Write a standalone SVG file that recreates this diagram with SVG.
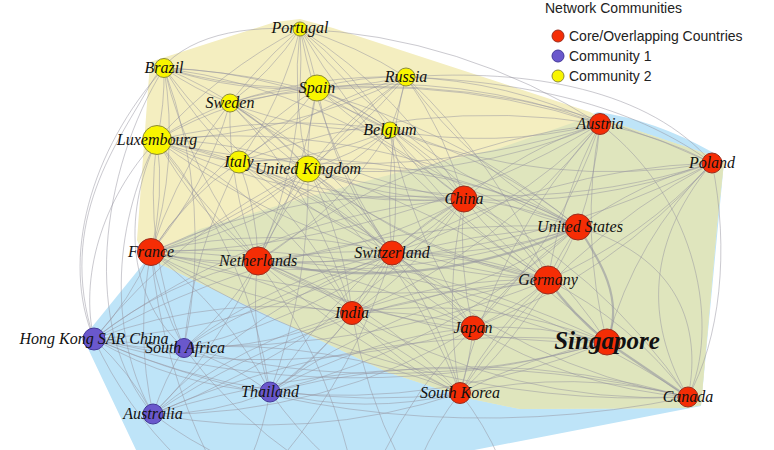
<svg xmlns="http://www.w3.org/2000/svg" width="774" height="450" viewBox="0 0 774 450">
<style>
.e path{fill:none;stroke:#95949f;stroke-opacity:0.5;stroke-width:1}
.e path.t{stroke-width:2.2;stroke-opacity:0.6}
.r{fill:#f52d05;stroke:#9b2d1e;stroke-width:1}
.y{fill:#f8f500;stroke:#8c8a3a;stroke-width:1}
.p{fill:#6a58cc;stroke:#43389a;stroke-width:1}
.l{font-family:"Liberation Serif","Times New Roman",serif;font-style:italic;font-size:16px;fill:#111;text-anchor:middle}
.lg{font-family:"Liberation Sans",Arial,sans-serif;font-size:14px;fill:#222}
</style>
<rect width="774" height="450" fill="#ffffff"/>
<g id="hulls">
<path d="M148,258 L83,338 L137,452 L464,452 L701,406 L724,162 L712,152 Q655,120 598,112 L500,148 L400,172 L300,199 L200,229 L175,242 Z" fill="#bee4f8"/>
<path d="M150,62 L275,22 L300,19 L333,28 L590,112 L603,119 L716,157 L724,162 L717,225 L701,405 L687,408 L520,409 L467,398 L387,372 L160,264 L145,259 L137,240 Z" fill="#f4eec0"/>
<path d="M150,262 L175,242 L200,229 L300,199 L400,172 L500,148 L598,114 L603,119 L716,157 L724,162 L717,225 L701,405 L687,408 L520,409 L467,398 L387,372 L160,264 Z" fill="#dfe5bd"/>
</g>
<g id="connectors" class="e">
<path d="M300 29C230 25 175 40 150 85C120 140 55 220 94 339"/>
<path d="M164 68C90 150 60 260 94 339"/>
<path d="M164 68C100 170 80 330 153 414"/>
<path d="M157 140C100 200 80 280 94 339"/>
<path d="M157 140C110 230 110 340 153 414"/>
<path d="M157 140C120 220 130 300 184 348"/>
<path d="M406 77C530 68 650 90 712 163"/>
<path d="M406 77C540 82 640 110 712 163"/>
<path d="M578 227C690 260 700 340 688 397"/>
<path d="M712 163C640 250 650 330 688 397"/>
<path d="M712 163C730 250 720 340 688 397"/>
<path d="M600 124C700 200 720 330 688 397"/>
<path class="t" d="M578 227C600 260 625 300 607 342"/>
<path class="t" d="M607 342L688 397"/>
<path class="t" d="M578 227A500 500 0 0 1 258 261"/>
<path class="t" d="M548 280A300 300 0 0 0 607 342"/>
<path d="M300 29A300 300 0 0 1 230 103"/>
<path d="M300 29A500 500 0 0 0 157 140"/>
<path d="M300 29A400 400 0 0 1 239 162"/>
<path d="M300 29A400 400 0 0 0 308 169"/>
<path d="M300 29A300 300 0 0 1 317 88"/>
<path d="M300 29A400 400 0 0 1 390 130"/>
<path d="M300 29A500 500 0 0 1 258 261"/>
<path d="M300 29A500 500 0 0 0 151 252"/>
<path d="M300 29A500 500 0 0 1 464 199"/>
<path d="M300 29A600 600 0 0 0 392 253"/>
<path d="M300 29A600 600 0 0 1 600 124"/>
<path d="M300 29A700 700 0 0 0 548 280"/>
<path d="M300 29A600 600 0 0 0 578 227"/>
<path d="M300 29A400 400 0 0 1 406 77"/>
<path d="M164 68A300 300 0 0 0 230 103"/>
<path d="M164 68A300 300 0 0 1 157 140"/>
<path d="M164 68A400 400 0 0 0 239 162"/>
<path d="M164 68A400 400 0 0 1 308 169"/>
<path d="M164 68A400 400 0 0 0 317 88"/>
<path d="M164 68A500 500 0 0 1 390 130"/>
<path d="M164 68A500 500 0 0 0 406 77"/>
<path d="M164 68A400 400 0 0 1 151 252"/>
<path d="M164 68A500 500 0 0 0 258 261"/>
<path d="M164 68A600 600 0 0 1 464 199"/>
<path d="M164 68A600 600 0 0 0 392 253"/>
<path d="M164 68A500 500 0 0 1 184 348"/>
<path d="M164 68A700 700 0 0 1 578 227"/>
<path d="M230 103A300 300 0 0 1 317 88"/>
<path d="M230 103A300 300 0 0 0 157 140"/>
<path d="M230 103A300 300 0 0 1 308 169"/>
<path d="M230 103A400 400 0 0 0 390 130"/>
<path d="M230 103A500 500 0 0 1 406 77"/>
<path d="M230 103A400 400 0 0 0 258 261"/>
<path d="M230 103A400 400 0 0 1 151 252"/>
<path d="M230 103A500 500 0 0 0 464 199"/>
<path d="M230 103A400 400 0 0 1 392 253"/>
<path d="M230 103A700 700 0 0 1 600 124"/>
<path d="M230 103A600 600 0 0 0 548 280"/>
<path d="M230 103A500 500 0 0 1 352 313"/>
<path d="M317 88A300 300 0 0 1 406 77"/>
<path d="M317 88A300 300 0 0 0 390 130"/>
<path d="M317 88A400 400 0 0 0 157 140"/>
<path d="M317 88A300 300 0 0 1 239 162"/>
<path d="M317 88A300 300 0 0 0 308 169"/>
<path d="M317 88A400 400 0 0 1 464 199"/>
<path d="M317 88A400 400 0 0 0 392 253"/>
<path d="M317 88A500 500 0 0 1 258 261"/>
<path d="M317 88A600 600 0 0 0 151 252"/>
<path d="M317 88A600 600 0 0 1 600 124"/>
<path d="M317 88A600 600 0 0 0 578 227"/>
<path d="M317 88A600 600 0 0 1 548 280"/>
<path d="M317 88A800 800 0 0 1 712 163"/>
<path d="M406 77A300 300 0 0 1 390 130"/>
<path d="M406 77A400 400 0 0 0 308 169"/>
<path d="M406 77A600 600 0 0 1 157 140"/>
<path d="M406 77A500 500 0 0 0 239 162"/>
<path d="M406 77A400 400 0 0 1 464 199"/>
<path d="M406 77A500 500 0 0 0 392 253"/>
<path d="M406 77A500 500 0 0 1 600 124"/>
<path d="M406 77A500 500 0 0 0 578 227"/>
<path d="M406 77A600 600 0 0 1 548 280"/>
<path d="M406 77A500 500 0 0 0 258 261"/>
<path d="M406 77A600 600 0 0 1 151 252"/>
<path d="M390 130A600 600 0 0 0 157 140"/>
<path d="M390 130A400 400 0 0 1 239 162"/>
<path d="M390 130A300 300 0 0 1 308 169"/>
<path d="M390 130A300 300 0 0 0 464 199"/>
<path d="M390 130A400 400 0 0 1 392 253"/>
<path d="M390 130A500 500 0 0 0 600 124"/>
<path d="M390 130A500 500 0 0 1 578 227"/>
<path d="M390 130A500 500 0 0 0 548 280"/>
<path d="M390 130A400 400 0 0 1 258 261"/>
<path d="M390 130A500 500 0 0 1 151 252"/>
<path d="M390 130A600 600 0 0 0 473 328"/>
<path d="M390 130A600 600 0 0 0 712 163"/>
<path d="M157 140A300 300 0 0 0 239 162"/>
<path d="M157 140A400 400 0 0 1 308 169"/>
<path d="M157 140A300 300 0 0 1 151 252"/>
<path d="M157 140A400 400 0 0 0 258 261"/>
<path d="M157 140A500 500 0 0 1 392 253"/>
<path d="M157 140A600 600 0 0 0 464 199"/>
<path d="M157 140A800 800 0 0 0 600 124"/>
<path d="M157 140A700 700 0 0 1 578 227"/>
<path d="M157 140A700 700 0 0 0 548 280"/>
<path d="M157 140A500 500 0 0 1 352 313"/>
<path d="M157 140A400 400 0 0 0 184 348"/>
<path d="M157 140A600 600 0 0 1 473 328"/>
<path d="M157 140A700 700 0 0 0 460 393"/>
<path d="M157 140A500 500 0 0 1 270 392"/>
<path d="M239 162A300 300 0 0 0 308 169"/>
<path d="M239 162A300 300 0 0 1 258 261"/>
<path d="M239 162A300 300 0 0 0 151 252"/>
<path d="M239 162A400 400 0 0 1 392 253"/>
<path d="M239 162A500 500 0 0 0 464 199"/>
<path d="M239 162A600 600 0 0 1 578 227"/>
<path d="M239 162A600 600 0 0 0 548 280"/>
<path d="M239 162A500 500 0 0 1 352 313"/>
<path d="M239 162A700 700 0 0 1 600 124"/>
<path d="M239 162A500 500 0 0 0 184 348"/>
<path d="M308 169A300 300 0 0 0 258 261"/>
<path d="M308 169A400 400 0 0 1 151 252"/>
<path d="M308 169A300 300 0 0 1 392 253"/>
<path d="M308 169A400 400 0 0 0 464 199"/>
<path d="M308 169A500 500 0 0 1 578 227"/>
<path d="M308 169A500 500 0 0 0 548 280"/>
<path d="M308 169A600 600 0 0 0 600 124"/>
<path d="M308 169A400 400 0 0 1 352 313"/>
<path d="M308 169A500 500 0 0 0 473 328"/>
<path d="M308 169A700 700 0 0 1 607 342"/>
<path d="M308 169A700 700 0 0 0 712 163"/>
<path d="M308 169A600 600 0 0 1 460 393"/>
<path d="M308 169A600 600 0 0 0 94 339"/>
<path d="M308 169A600 600 0 0 1 270 392"/>
<path d="M600 124A400 400 0 0 1 712 163"/>
<path d="M600 124A400 400 0 0 0 464 199"/>
<path d="M600 124A400 400 0 0 1 578 227"/>
<path d="M600 124A500 500 0 0 0 548 280"/>
<path d="M600 124A500 500 0 0 1 392 253"/>
<path d="M600 124A700 700 0 0 0 258 261"/>
<path d="M600 124A900 900 0 0 1 151 252"/>
<path d="M600 124A500 500 0 0 1 473 328"/>
<path d="M600 124A500 500 0 0 0 607 342"/>
<path d="M600 124A600 600 0 0 1 352 313"/>
<path d="M600 124A600 600 0 0 0 460 393"/>
<path d="M712 163A400 400 0 0 0 578 227"/>
<path d="M712 163A600 600 0 0 1 464 199"/>
<path d="M712 163A500 500 0 0 1 548 280"/>
<path d="M712 163A400 400 0 0 0 607 342"/>
<path d="M712 163A700 700 0 0 0 392 253"/>
<path d="M712 163A600 600 0 0 1 473 328"/>
<path d="M712 163A900 900 0 0 1 258 261"/>
<path d="M712 163A700 700 0 0 0 460 393"/>
<path d="M464 199A400 400 0 0 1 578 227"/>
<path d="M464 199A300 300 0 0 0 392 253"/>
<path d="M464 199A500 500 0 0 1 258 261"/>
<path d="M464 199A600 600 0 0 0 151 252"/>
<path d="M464 199A400 400 0 0 0 548 280"/>
<path d="M464 199A400 400 0 0 1 352 313"/>
<path d="M464 199A400 400 0 0 0 473 328"/>
<path d="M464 199A500 500 0 0 1 607 342"/>
<path d="M464 199A500 500 0 0 0 460 393"/>
<path d="M464 199A700 700 0 0 0 94 339"/>
<path d="M464 199A600 600 0 0 1 184 348"/>
<path d="M464 199A600 600 0 0 0 270 392"/>
<path d="M464 199A800 800 0 0 1 153 414"/>
<path d="M464 199A600 600 0 0 1 688 397"/>
<path d="M578 227A500 500 0 0 1 392 253"/>
<path d="M578 227A800 800 0 0 1 151 252"/>
<path d="M578 227A300 300 0 0 0 548 280"/>
<path d="M578 227A500 500 0 0 1 352 313"/>
<path d="M578 227A500 500 0 0 0 473 328"/>
<path d="M578 227A500 500 0 0 1 460 393"/>
<path d="M578 227A900 900 0 0 0 94 339"/>
<path d="M578 227A700 700 0 0 1 270 392"/>
<path d="M578 227A800 800 0 0 0 184 348"/>
<path d="M151 252A400 400 0 0 0 258 261"/>
<path d="M151 252A500 500 0 0 1 392 253"/>
<path d="M151 252A500 500 0 0 0 352 313"/>
<path d="M151 252A700 700 0 0 1 473 328"/>
<path d="M151 252A800 800 0 0 0 548 280"/>
<path d="M151 252A900 900 0 0 1 607 342"/>
<path d="M151 252A700 700 0 0 1 460 393"/>
<path d="M151 252A300 300 0 0 1 94 339"/>
<path d="M151 252A300 300 0 0 0 184 348"/>
<path d="M151 252A400 400 0 0 1 270 392"/>
<path d="M151 252A400 400 0 0 0 153 414"/>
<path d="M151 252A900 900 0 0 0 688 397"/>
<path d="M258 261A500 500 0 0 0 392 253"/>
<path d="M258 261A300 300 0 0 1 352 313"/>
<path d="M258 261A600 600 0 0 1 548 280"/>
<path d="M258 261A500 500 0 0 0 473 328"/>
<path d="M258 261A700 700 0 0 0 607 342"/>
<path d="M258 261A500 500 0 0 1 460 393"/>
<path d="M258 261A400 400 0 0 0 94 339"/>
<path d="M258 261A300 300 0 0 1 184 348"/>
<path d="M258 261A300 300 0 0 0 270 392"/>
<path d="M258 261A500 500 0 0 1 153 414"/>
<path d="M258 261A800 800 0 0 1 688 397"/>
<path d="M392 253A300 300 0 0 0 352 313"/>
<path d="M392 253A400 400 0 0 1 548 280"/>
<path d="M392 253A300 300 0 0 1 473 328"/>
<path d="M392 253A500 500 0 0 0 607 342"/>
<path d="M392 253A400 400 0 0 1 460 393"/>
<path d="M392 253A700 700 0 0 1 94 339"/>
<path d="M392 253A500 500 0 0 0 184 348"/>
<path d="M392 253A400 400 0 0 1 270 392"/>
<path d="M392 253A600 600 0 0 0 153 414"/>
<path d="M392 253A600 600 0 0 0 688 397"/>
<path d="M548 280A500 500 0 0 0 352 313"/>
<path d="M548 280A300 300 0 0 1 473 328"/>
<path d="M548 280A400 400 0 0 0 460 393"/>
<path d="M548 280A400 400 0 0 1 688 397"/>
<path d="M548 280A600 600 0 0 0 270 392"/>
<path d="M548 280A900 900 0 0 1 94 339"/>
<path d="M548 280A800 800 0 0 0 153 414"/>
<path d="M352 313A300 300 0 0 1 473 328"/>
<path d="M352 313A500 500 0 0 1 607 342"/>
<path d="M352 313A300 300 0 0 0 460 393"/>
<path d="M352 313A500 500 0 0 0 94 339"/>
<path d="M352 313A400 400 0 0 1 184 348"/>
<path d="M352 313A300 300 0 0 1 270 392"/>
<path d="M352 313A500 500 0 0 0 153 414"/>
<path d="M352 313A600 600 0 0 0 688 397"/>
<path d="M473 328A400 400 0 0 1 607 342"/>
<path d="M473 328A300 300 0 0 1 460 393"/>
<path d="M473 328A500 500 0 0 0 688 397"/>
<path d="M473 328A500 500 0 0 0 270 392"/>
<path d="M473 328A700 700 0 0 1 94 339"/>
<path d="M473 328A600 600 0 0 1 153 414"/>
<path d="M607 342A500 500 0 0 0 460 393"/>
<path d="M607 342A700 700 0 0 1 270 392"/>
<path d="M607 342A900 900 0 0 1 94 339"/>
<path d="M607 342A800 800 0 0 1 184 348"/>
<path d="M607 342A900 900 0 0 0 153 414"/>
<path d="M94 339A300 300 0 0 0 184 348"/>
<path d="M94 339A300 300 0 0 1 153 414"/>
<path d="M94 339A400 400 0 0 0 270 392"/>
<path d="M94 339A700 700 0 0 0 460 393"/>
<path d="M94 339A1000 1000 0 0 0 688 397"/>
<path d="M184 348A300 300 0 0 0 153 414"/>
<path d="M184 348A300 300 0 0 1 270 392"/>
<path d="M184 348A600 600 0 0 1 460 393"/>
<path d="M270 392A300 300 0 0 1 153 414"/>
<path d="M270 392A400 400 0 0 0 460 393"/>
<path d="M270 392A800 800 0 0 1 688 397"/>
<path d="M153 414A600 600 0 0 0 460 393"/>
<path d="M153 414A1000 1000 0 0 1 688 397"/>
<path d="M460 393A500 500 0 0 1 688 397"/>
<path d="M153 414A400 400 0 0 0 230 460"/>
<path d="M94 339A400 400 0 0 0 180 460"/>
<path d="M270 392A300 300 0 0 1 250 460"/>
<path d="M270 392A400 400 0 0 0 330 460"/>
<path d="M184 348A500 500 0 0 0 300 460"/>
<path d="M352 313A500 500 0 0 0 400 460"/>
<path d="M460 393A300 300 0 0 0 420 460"/>
<path d="M460 393A300 300 0 0 1 500 460"/>
<path d="M151 252A600 600 0 0 0 210 460"/>
<path d="M258 261A600 600 0 0 1 350 460"/>
<path d="M473 328A500 500 0 0 0 380 460"/>
<path d="M392 253A600 600 0 0 1 280 460"/>
</g>
<g id="node-portugal"><circle class="y" cx="300" cy="29" r="7"/><text class="l" x="300" y="33">Portugal</text></g>
<g id="node-brazil"><circle class="y" cx="164" cy="68" r="9.5"/><text class="l" x="164" y="73">Brazil</text></g>
<g id="node-sweden"><circle class="y" cx="230" cy="103" r="9"/><text class="l" x="230" y="108">Sweden</text></g>
<g id="node-spain"><circle class="y" cx="317" cy="88" r="13"/><text class="l" x="317" y="93">Spain</text></g>
<g id="node-russia"><circle class="y" cx="406" cy="77" r="9"/><text class="l" x="406" y="82">Russia</text></g>
<g id="node-belgium"><circle class="y" cx="390" cy="130" r="8"/><text class="l" x="390" y="135">Belgium</text></g>
<g id="node-luxembourg"><circle class="y" cx="157" cy="140" r="14.5"/><text class="l" x="157" y="145">Luxembourg</text></g>
<g id="node-italy"><circle class="y" cx="239" cy="162" r="11"/><text class="l" x="239" y="167">Italy</text></g>
<g id="node-uk"><circle class="y" cx="308" cy="169" r="13"/><text class="l" x="308" y="174">United Kingdom</text></g>
<g id="node-austria"><circle class="r" cx="600" cy="124" r="10.5"/><text class="l" x="600" y="129">Austria</text></g>
<g id="node-poland"><circle class="r" cx="712" cy="163" r="10"/><text class="l" x="712" y="168">Poland</text></g>
<g id="node-china"><circle class="r" cx="464" cy="199" r="13"/><text class="l" x="464" y="204">China</text></g>
<g id="node-us"><circle class="r" cx="578" cy="227" r="13"/><text class="l" x="580" y="232">United States</text></g>
<g id="node-france"><circle class="r" cx="151" cy="252" r="13.5"/><text class="l" x="151" y="257">France</text></g>
<g id="node-netherlands"><circle class="r" cx="258" cy="261" r="14"/><text class="l" x="258" y="266">Netherlands</text></g>
<g id="node-switzerland"><circle class="r" cx="392" cy="253" r="12"/><text class="l" x="392" y="258">Switzerland</text></g>
<g id="node-germany"><circle class="r" cx="548" cy="280" r="14"/><text class="l" x="548" y="285">Germany</text></g>
<g id="node-india"><circle class="r" cx="352" cy="313" r="11.5"/><text class="l" x="352" y="318">India</text></g>
<g id="node-japan"><circle class="r" cx="473" cy="328" r="12"/><text class="l" x="473" y="333">Japan</text></g>
<g id="node-singapore"><circle class="r" cx="607" cy="342" r="13"/><text class="l" x="607" y="349" style="font-size:25px;font-weight:bold">Singapore</text></g>
<g id="node-hongkong"><circle class="p" cx="94" cy="339" r="11"/><text class="l" x="94" y="344">Hong Kong SAR China</text></g>
<g id="node-southafrica"><circle class="p" cx="184" cy="348" r="9.5"/><text class="l" x="185" y="353">South Africa</text></g>
<g id="node-thailand"><circle class="p" cx="270" cy="392" r="10"/><text class="l" x="270" y="397">Thailand</text></g>
<g id="node-australia"><circle class="p" cx="153" cy="414" r="10"/><text class="l" x="153" y="419">Australia</text></g>
<g id="node-southkorea"><circle class="r" cx="460" cy="393" r="10.5"/><text class="l" x="460" y="398">South Korea</text></g>
<g id="node-canada"><circle class="r" cx="688" cy="397" r="10"/><text class="l" x="688" y="402">Canada</text></g>
<g id="legend">
<text class="lg" x="545" y="13">Network Communities</text>
<circle class="r" cx="558" cy="36" r="6"/><text class="lg" x="569" y="41">Core/Overlapping Countries</text>
<circle class="p" cx="558" cy="56" r="6"/><text class="lg" x="569" y="61">Community 1</text>
<circle class="y" cx="558" cy="76" r="6"/><text class="lg" x="569" y="81">Community 2</text>
</g>
</svg>
